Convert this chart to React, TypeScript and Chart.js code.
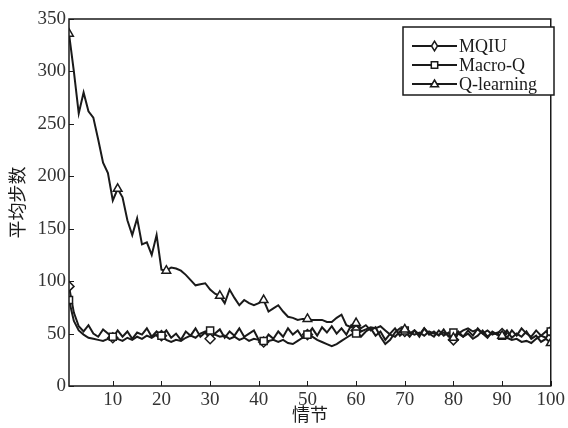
import React, { useEffect, useRef } from "react";
import { Chart, registerables } from "chart.js";

Chart.register(...registerables);

const episodes: number[] = Array.from({ length: 100 }, (_, i) => i + 1);

const mqiu: number[] = [
  95, 70, 57, 52, 58, 50, 47, 54, 50, 46,
  53, 47, 52, 45, 51, 49, 55, 47, 52, 48,
  53, 46, 50, 44, 52, 48, 55, 47, 51, 45,
  50, 54, 46, 52, 48, 55, 47, 50, 53, 44,
  42, 49, 45, 52, 47, 55, 49, 53, 46, 49,
  55, 48, 56, 51, 57, 50, 55, 49, 58, 53,
  47, 52, 55, 48, 52, 44, 50, 55, 48, 52,
  47, 53, 49, 55, 50, 47, 53, 48, 51, 44,
  50, 47, 53, 48, 55, 50, 46, 52, 49, 50,
  46, 53, 48, 55, 50, 47, 53, 48, 46, 52,
];

const macroQ: number[] = [
  82, 62, 53, 49, 46, 45, 44, 43, 45, 47,
  45, 43, 46, 44, 47, 45, 48, 46, 49, 48,
  44, 42, 44, 43, 46, 48, 46, 50, 52, 53,
  49, 47, 48, 45, 47, 44, 46, 43, 45, 44,
  43, 43, 44, 42, 44, 41, 40, 43, 46, 49,
  47, 44, 42, 40, 38, 40, 43, 46, 49, 50,
  52, 54, 56, 55, 57, 53, 49, 47, 52, 53,
  51, 49, 51, 48, 52, 50, 49, 51, 48, 51,
  50, 53, 55, 52, 54, 50, 53, 49, 51, 48,
  46, 44, 45, 42, 43, 41, 45, 48, 52, 52,
];

const qLearning: number[] = [
  336, 300, 260, 280, 262, 256, 235, 213, 203, 177,
  188, 180, 158, 144, 160, 135, 137, 125, 144, 111,
  110, 113, 112, 110, 106, 101, 96, 97, 98, 92,
  88, 86, 79, 92, 84, 77, 82, 79, 77, 79,
  82, 71, 74, 77, 71, 66, 65, 63, 64, 64,
  63, 63, 63, 61, 61, 65, 68, 58, 56, 60,
  55, 58, 53, 56, 47, 40, 44, 51, 55, 54,
  50, 53, 47, 55, 49, 52, 48, 54, 47, 46,
  52, 47, 50, 45, 48, 53, 47, 51, 49, 48,
  53, 46, 50, 47, 52, 45, 48, 42, 45, 41,
];

const seriesNames: string[] = ["MQIU", "Macro-Q", "Q-learning"];
const markerIdxMQIU: number[] = [0, 9, 19, 29, 40, 49, 59, 69, 79, 89, 99];
const markerIdxMacro: number[] = [0, 9, 19, 29, 40, 49, 59, 69, 79, 89, 99];
const markerIdxQ: number[] = [0, 10, 20, 31, 40, 49, 59, 69, 79, 89, 99];

const xTicks: number[] = [10, 20, 30, 40, 50, 60, 70, 80, 90, 100];
const yTicks: number[] = [0, 50, 100, 150, 200, 250, 300, 350];
const xTitle = "情节";
const yTitle = "平均步数";

const INK = "#1a1a1a";
const LABEL = "#333";
const SERIF = "'Liberation Serif', 'DejaVu Serif', serif";
const CJK = "'Noto Sans CJK SC', sans-serif";

function drawMarker(ctx: CanvasRenderingContext2D, style: string, x: number, y: number, r: number) {
  ctx.save();
  ctx.beginPath();
  if (style === "rectRot") {
    ctx.moveTo(x, y - r * 1.2);
    ctx.lineTo(x + r * 0.75, y);
    ctx.lineTo(x, y + r * 1.2);
    ctx.lineTo(x - r * 0.75, y);
    ctx.closePath();
  } else if (style === "rect") {
    ctx.rect(x - r * 0.8, y - r * 0.8, r * 1.6, r * 1.6);
  } else {
    ctx.moveTo(x, y - r);
    ctx.lineTo(x + r, y + r * 0.7);
    ctx.lineTo(x - r, y + r * 0.7);
    ctx.closePath();
  }
  ctx.fillStyle = "#fff";
  ctx.fill();
  ctx.lineWidth = 1.5;
  ctx.strokeStyle = INK;
  ctx.stroke();
  ctx.restore();
}

const decorPlugin = {
  id: "decor",
  afterDraw(chart: any) {
    const ctx: CanvasRenderingContext2D = chart.ctx;
    const a = chart.chartArea;
    const xs = chart.scales.x;
    const ys = chart.scales.y;
    ctx.save();
    ctx.strokeStyle = INK;
    ctx.lineWidth = 1.5;
    ctx.strokeRect(a.left, a.top, a.right - a.left, a.bottom - a.top);
    ctx.lineWidth = 1;
    ctx.beginPath();
    xTicks.forEach((v) => {
      const px = Math.round(xs.getPixelForValue(v)) + 0.5;
      ctx.moveTo(px, a.bottom);
      ctx.lineTo(px, a.bottom - 5);
    });
    yTicks.forEach((v) => {
      const py = Math.round(ys.getPixelForValue(v)) + 0.5;
      ctx.moveTo(a.left, py);
      ctx.lineTo(a.left + 5, py);
    });
    ctx.stroke();
    ctx.fillStyle = INK;
    ctx.font = "18px " + CJK;
    ctx.textAlign = "center";
    ctx.textBaseline = "middle";
    ctx.fillText(xTitle, (a.left + a.right) / 2, 414);
    ctx.save();
    ctx.translate(17, (a.top + a.bottom) / 2);
    ctx.rotate(-Math.PI / 2);
    ctx.fillText(yTitle, 0, 0);
    ctx.restore();
    const bx = 403, by = 27, bw = 151, bh = 68;
    ctx.fillStyle = "#fff";
    ctx.fillRect(bx, by, bw, bh);
    ctx.lineWidth = 1.5;
    ctx.strokeStyle = INK;
    ctx.strokeRect(bx, by, bw, bh);
    const styles = ["rectRot", "rect", "triangle"];
    const rows = [46, 65, 84];
    ctx.font = "18px " + SERIF;
    ctx.textAlign = "left";
    ctx.textBaseline = "middle";
    seriesNames.forEach((name, i) => {
      const y = rows[i];
      ctx.beginPath();
      ctx.lineWidth = 2;
      ctx.moveTo(412, y);
      ctx.lineTo(457, y);
      ctx.stroke();
      drawMarker(ctx, styles[i], 434.5, y, 4);
      ctx.fillStyle = INK;
      ctx.fillText(name, 459, y + 1);
    });
    ctx.restore();
  },
};

function radiusFor(idx: number[]) {
  return (c: any) => (idx.includes(c.dataIndex) ? 5 : 0);
}

export default function App() {
  const ref = useRef<HTMLCanvasElement | null>(null);
  useEffect(() => {
    if (!ref.current) return;
    const mk = (label: string, data: number[], style: string, idx: number[]) => ({
      label,
      data: data.map((v, i) => ({ x: episodes[i], y: v })),
      borderColor: INK,
      borderWidth: 2,
      backgroundColor: "#fff",
      pointStyle: style,
      pointRadius: radiusFor(idx),
      pointBorderWidth: 1.5,
      pointBorderColor: INK,
      pointBackgroundColor: "#fff",
      tension: 0,
      fill: false,
    });
    const chart = new Chart(ref.current, {
      type: "line",
      data: {
        datasets: [
          mk(seriesNames[2], qLearning, "triangle", markerIdxQ),
          mk(seriesNames[1], macroQ, "rect", markerIdxMacro),
          mk(seriesNames[0], mqiu, "rectRot", markerIdxMQIU),
        ],
      },
      options: {
        animation: false,
        responsive: false,
        maintainAspectRatio: false,
        layout: { padding: { left: 0, right: 7, top: 19, bottom: 0 } },
        plugins: { legend: { display: false }, tooltip: { enabled: false } },
        scales: {
          x: {
            type: "linear",
            min: 1,
            max: 100,
            grid: { display: false, drawTicks: false },
            border: { display: false },
            afterBuildTicks: (s: any) => {
              s.ticks = xTicks.map((v) => ({ value: v }));
            },
            afterFit: (s: any) => {
              s.height = 42;
            },
            ticks: {
              color: LABEL,
              padding: 3,
              maxRotation: 0,
              autoSkip: false,
              font: { family: SERIF, size: 19 },
            },
          },
          y: {
            min: 0,
            max: 350,
            grid: { display: false, drawTicks: false },
            border: { display: false },
            afterBuildTicks: (s: any) => {
              s.ticks = yTicks.map((v) => ({ value: v }));
            },
            afterFit: (s: any) => {
              s.width = 69;
            },
            ticks: {
              color: LABEL,
              padding: 3,
              font: { family: SERIF, size: 19 },
            },
          },
        },
      },
      plugins: [decorPlugin],
    } as any);
    return () => chart.destroy();
  }, []);
  return (
    <div style={{ position: "fixed", left: 0, top: 0, width: 568, height: 428, background: "#fff" }}>
      <canvas ref={ref} width={568} height={428} style={{ width: 568, height: 428 }} />
    </div>
  );
}
